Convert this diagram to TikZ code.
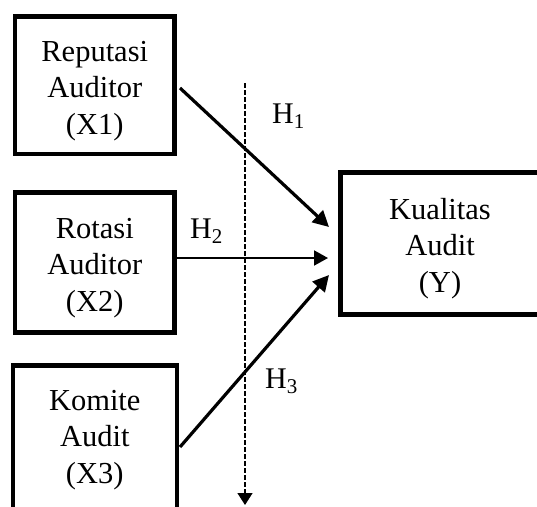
\documentclass[tikz,border=0pt]{standalone}
\usepackage{fontspec}
\setmainfont{Liberation Serif}
\usetikzlibrary{arrows.meta,calc}

% taller first line, so that the three lines sit a little low in each box
\newcommand{\firstline}{\rule{0pt}{31pt}}

\tikzset{
  varbox/.style={draw=black, line width=4.5pt, rectangle, align=center,
    minimum width=159.5pt, inner sep=0pt,
    font=\fontsize{30.5}{36.5}\selectfont},
  hyp/.style={-{Triangle[length=16pt,width=16pt]}, line width=3.2pt},
  hypflat/.style={-{Triangle[length=14pt,width=15pt]}, line width=2pt},
  hlabel/.style={anchor=base west, inner sep=0pt, font=\fontsize{30}{36}\selectfont},
  divider/.style={-{Triangle[length=12pt,width=15pt]}, line width=1.3pt,
    dash pattern=on 5pt off 2pt}
}

\begin{document}
\begin{tikzpicture}[x=1pt, y=-1pt]
\useasboundingbox (0,0) rectangle (537,506);

% independent variables
\node[varbox, minimum height=137.5pt] (x1) at (94.75,85.25)
  {\firstline Reputasi\\Auditor\\(X1)};
\node[varbox, minimum height=140pt] (x2) at (94.75,262.5)
  {\firstline Rotasi\\Auditor\\(X2)};
% third box runs past the lower edge: only its text is a node, the frame is drawn open
\node[varbox, draw=none, minimum height=134pt] (x3) at (94.75,434.5)
  {\firstline Komite\\Audit\\(X3)};
\draw[line width=4.5pt] ($(x3.south west)+(0,20)$) -- (x3.north west)
  -- (x3.north east) -- ($(x3.south east)+(0,20)$);

% dependent variable
\node[varbox, minimum width=199pt, minimum height=142pt] (y) at (440,243.5)
  {\firstline Kualitas\\Audit\\(Y)};

% hypothesis paths
\coordinate (s1) at (180,88);
\coordinate (t1) at (329,227);
\coordinate (s2) at (177,258);
\coordinate (t2) at (328,258);
\coordinate (s3) at (180,447);
\coordinate (t3) at (329,275);
\draw[hyp] (s1) -- (t1);
\draw[hypflat] (s2) -- (t2);
\draw[hyp] (s3) -- (t3);

% dashed divider
\coordinate (dtop) at (245,83);
\coordinate (dbot) at (245,505);
\draw[divider] (dtop) -- (dbot);

% hypothesis labels
\node[hlabel] (h1) at (272,123) {H\textsubscript{1}};
\node[hlabel] (h2) at (190,238) {H\textsubscript{2}};
\node[hlabel] (h3) at (265,388) {H\textsubscript{3}};
\end{tikzpicture}
\end{document}
